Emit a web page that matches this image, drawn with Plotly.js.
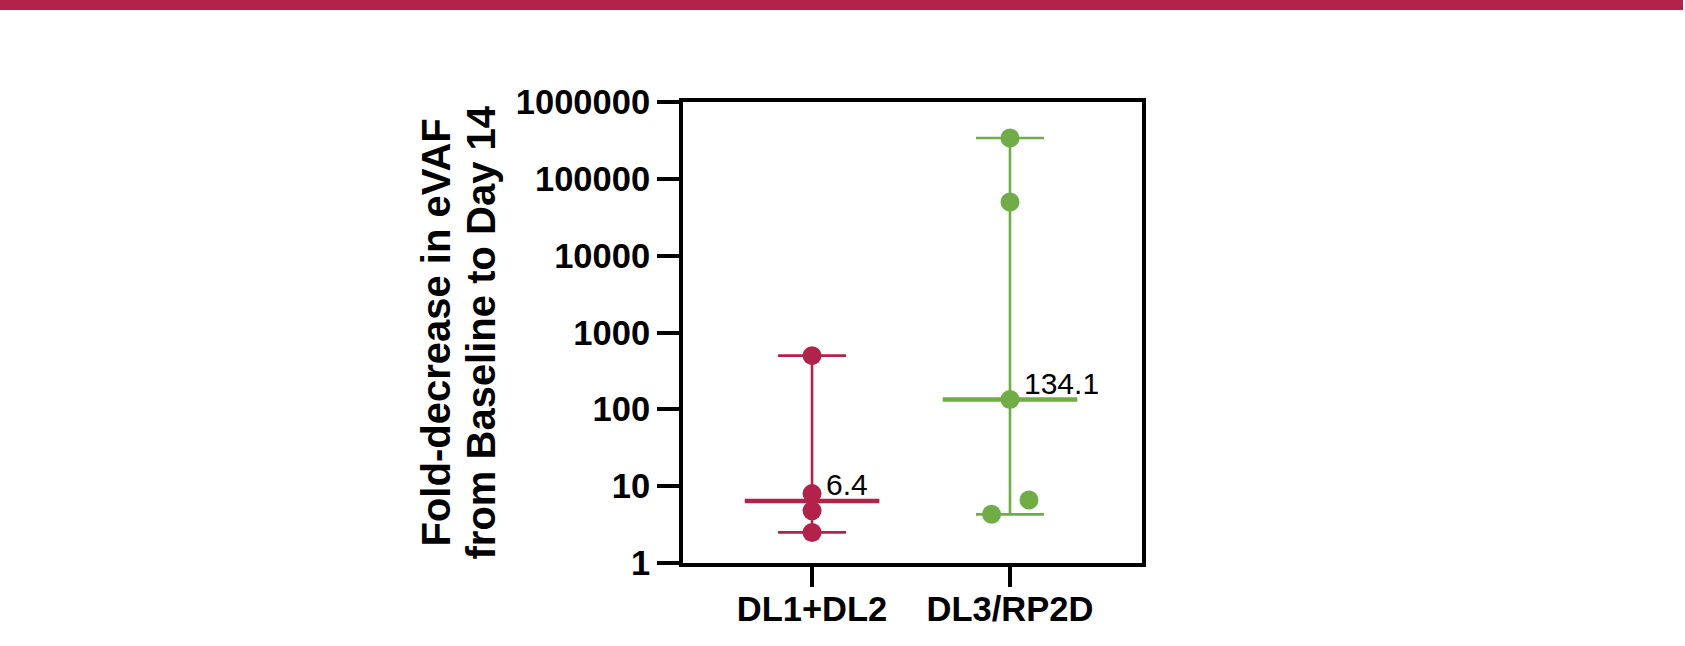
<!DOCTYPE html>
<html>
<head>
<meta charset="utf-8">
<script src="https://cdn.plot.ly/plotly-3.0.1.min.js"></script>
<style>
  html, body { margin: 0; padding: 0; background: #ffffff; }
  #chart { width: 1685px; height: 646px; }
</style>
</head>
<body>
<div id="chart"></div>
<script>
// ---- data ----
const categories = ['DL1+DL2', 'DL3/RP2D'];
const dl12Values = [2.5, 4.8, 8.0, 500];
const dl3Values = [4.3, 6.6, 134.1, 50000, 340000];
const dl12Jitter = [0, 0, 0, 0];
const dl3Jitter = [-0.093, 0.096, 0, 0, 0];
const medians = [6.4, 134.1];
const medianLabels = ['6.4', '134.1'];
const yTickVals = [1, 10, 100, 1000, 10000, 100000, 1000000];
const yTickText = ['1', '10', '100', '1000', '10000', '100000', '1000000'];
const yTitleLines = ['Fold-decrease in eVAF', 'from Baseline to Day 14'];

// ---- style ----
const RED = '#B2234C';
const GREEN = '#70AD47';
const FONT = 'Liberation Sans, Arial, Helvetica, sans-serif';
const W = 1685, H = 646;
const M = {l: 683, r: 543, t: 102, b: 83};
const plotW = W - M.l - M.r, plotH = H - M.t - M.b;
const pxX = px => (px - M.l) / plotW;
const pxY = py => (H - M.b - py) / plotH;

const groups = [
  {vals: dl12Values, jit: dl12Jitter, color: RED},
  {vals: dl3Values, jit: dl3Jitter, color: GREEN}
];

const traces = [];
groups.forEach((g, i) => {
  const mx = Math.max(...g.vals), mn = Math.min(...g.vals);
  // range bar (min–max) with caps
  traces.push({
    type: 'scatter', mode: 'markers', x: [i], y: [medians[i]],
    marker: {size: 1, opacity: 0},
    error_y: {type: 'data', symmetric: false,
      array: [mx - medians[i]], arrayminus: [medians[i] - mn],
      color: g.color, thickness: 2.6, width: 34},
    hoverinfo: 'skip', showlegend: false
  });
  // median line
  traces.push({
    type: 'scatter', mode: 'lines',
    x: [i - 0.34, i + 0.34], y: [medians[i], medians[i]],
    line: {color: g.color, width: 4.5},
    hoverinfo: 'skip', showlegend: false
  });
});
groups.forEach((g, i) => {
  traces.push({
    type: 'scatter', mode: 'markers',
    x: g.vals.map((v, k) => i + g.jit[k]), y: g.vals,
    marker: {size: 19, color: g.color},
    showlegend: false
  });
});

const annotations = medians.map((m, i) => ({
  x: i + 0.06, y: Math.log10(m), xref: 'x', yref: 'y',
  text: medianLabels[i], showarrow: false,
  xanchor: 'left', yanchor: 'bottom', yshift: -2,
  font: {family: FONT, size: 30, color: '#000'}
}));
const titleX = [435, 480];
yTitleLines.forEach((t, k) => {
  annotations.push({
    x: pxX(titleX[k]), y: 0.5, xref: 'paper', yref: 'paper',
    text: t, showarrow: false, textangle: -90,
    xanchor: 'center', yanchor: 'middle',
    font: {family: FONT, size: 40, color: '#000', weight: 'bold'}
  });
});

const layout = {
  width: W, height: H,
  margin: M,
  paper_bgcolor: '#ffffff', plot_bgcolor: '#ffffff',
  showlegend: false, hovermode: false,
  xaxis: {
    range: [-0.652, 1.667], tickvals: [0, 1], ticktext: categories,
    showgrid: false, zeroline: false,
    showline: true, mirror: true, linecolor: '#000', linewidth: 4,
    ticks: 'outside', ticklen: 20, tickwidth: 4, tickcolor: '#000',
    ticklabelstandoff: -7,
    tickfont: {family: FONT, size: 34.5, color: '#000', weight: 'bold'},
    fixedrange: true
  },
  yaxis: {
    type: 'log', range: [0, 6], tickvals: yTickVals, ticktext: yTickText,
    showgrid: false, zeroline: false,
    showline: true, mirror: true, linecolor: '#000', linewidth: 4,
    ticks: 'outside', ticklen: 22, tickwidth: 4, tickcolor: '#000',
    tickfont: {family: FONT, size: 34.5, color: '#000', weight: 'bold'},
    fixedrange: true
  },
  annotations: annotations,
  shapes: [{
    type: 'rect', xref: 'paper', yref: 'paper', layer: 'above',
    x0: pxX(0), x1: pxX(1683), y0: pxY(10), y1: pxY(-2),
    fillcolor: RED, line: {width: 0}
  }]
};

Plotly.newPlot('chart', traces, layout, {displayModeBar: false, staticPlot: true});
</script>
</body>
</html>
